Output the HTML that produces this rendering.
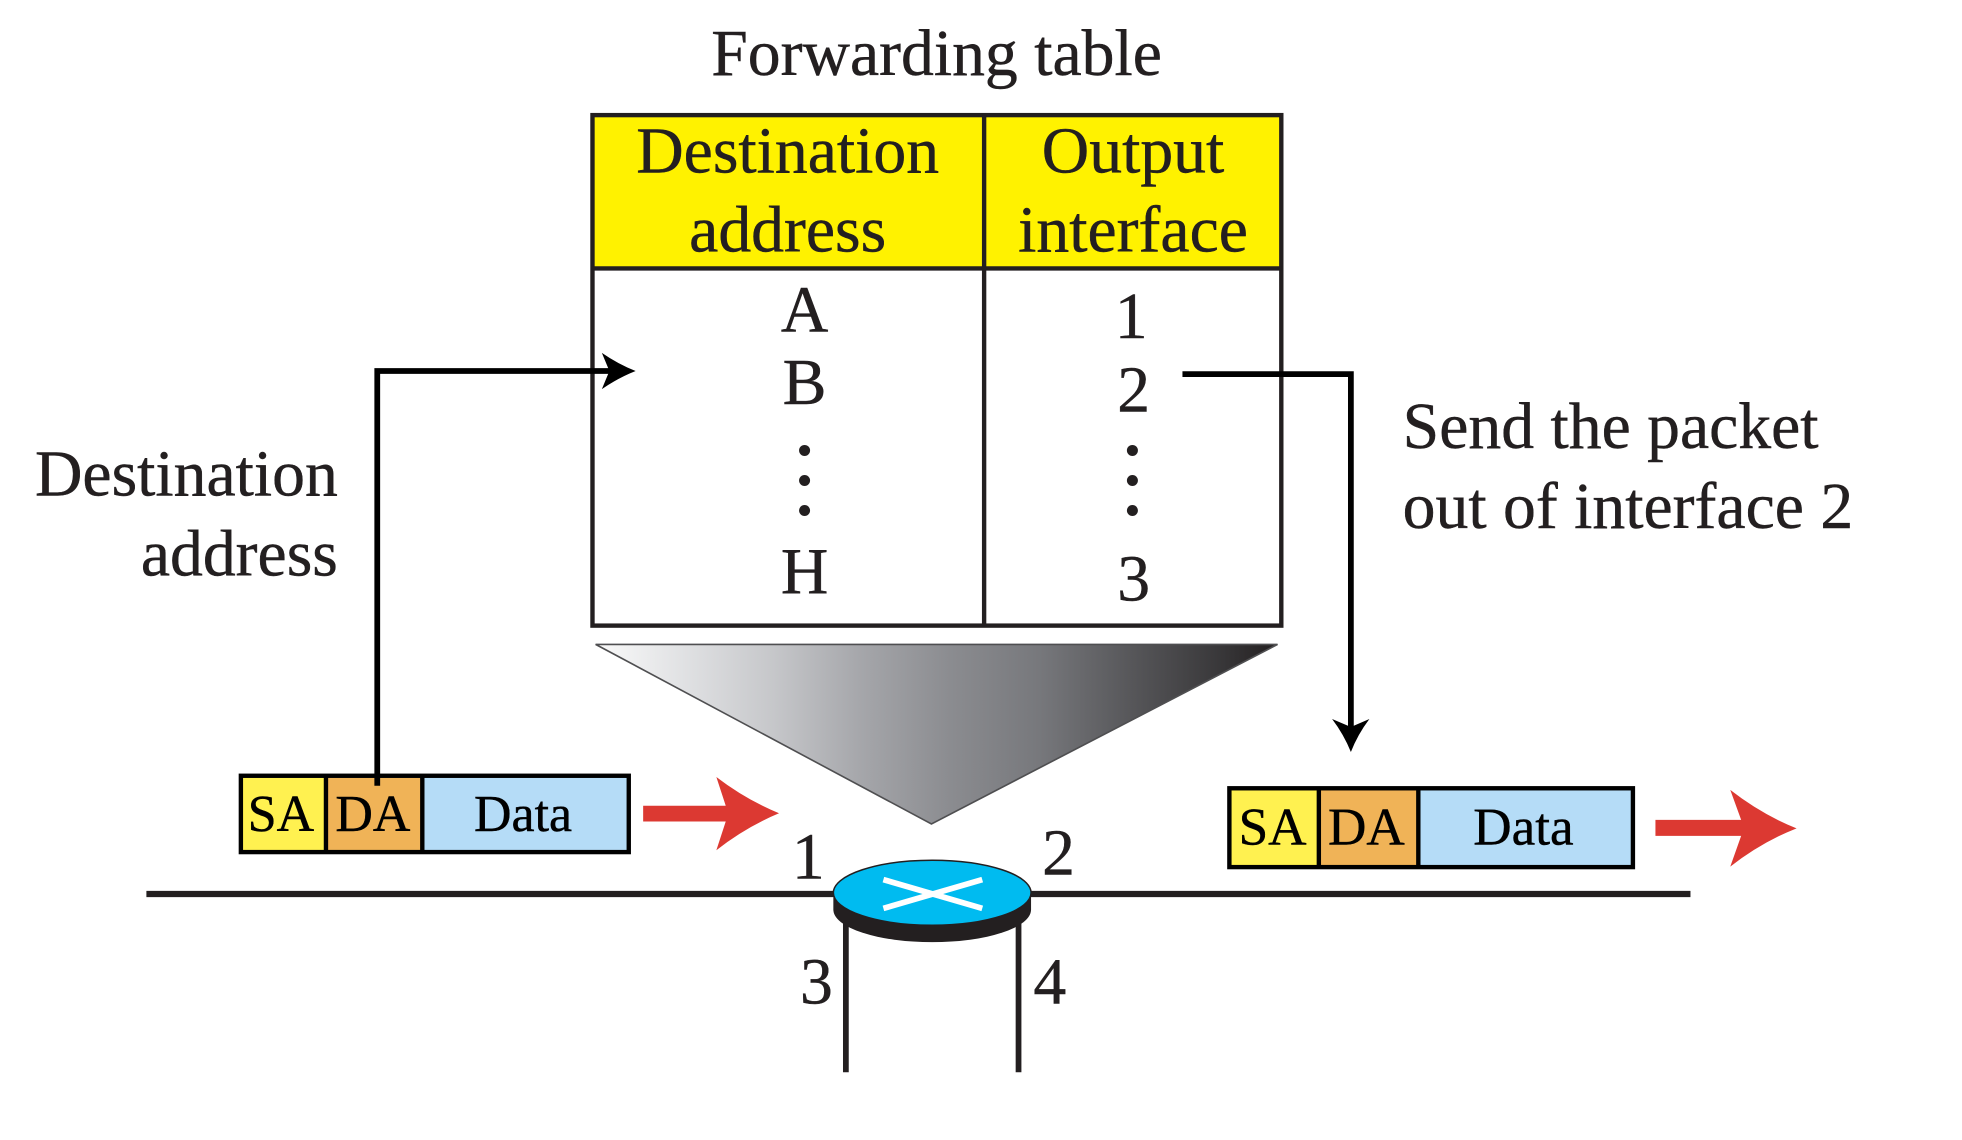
<!DOCTYPE html>
<html>
<head>
<meta charset="utf-8">
<style>
html,body{margin:0;padding:0;background:#fff;width:1962px;height:1140px;overflow:hidden}
svg{display:block}
text{font-family:"Liberation Serif","Times New Roman",serif;fill:#231f20;stroke:#231f20;stroke-width:.35px}
.k text{fill:#000;stroke:#000}
</style>
</head>
<body>
<svg width="1962" height="1140" viewBox="0 0 1568 911.1" preserveAspectRatio="none" xmlns="http://www.w3.org/2000/svg">
<defs>
<linearGradient id="g" x1="476" x2="1021" y1="0" y2="0" gradientUnits="userSpaceOnUse">
<stop offset="0" stop-color="#fafafa"/>
<stop offset="0.13" stop-color="#e0e1e3"/>
<stop offset="0.26" stop-color="#c6c7ca"/>
<stop offset="0.39" stop-color="#a5a6aa"/>
<stop offset="0.52" stop-color="#8b8c90"/>
<stop offset="0.65" stop-color="#77787c"/>
<stop offset="0.78" stop-color="#58585b"/>
<stop offset="0.91" stop-color="#3a393b"/>
<stop offset="1" stop-color="#231f20"/>
</linearGradient>
</defs>

<text x="748.5" y="60" font-size="52.5" text-anchor="middle">Forwarding table</text>

<!-- table -->
<rect x="473.5" y="92" width="550.5" height="408" fill="#fff"/>
<rect x="473.5" y="92" width="550.5" height="122" fill="#fff200"/>
<g fill="none" stroke="#231f20" stroke-width="3.5">
<rect x="473.5" y="92" width="550.5" height="408"/>
<line x1="473.5" y1="214.5" x2="1024" y2="214.5"/>
<line x1="786.5" y1="92" x2="786.5" y2="500"/>
</g>
<g font-size="52.5" text-anchor="middle">
<text x="629.5" y="138">Destination</text>
<text x="629.5" y="201">address</text>
<text x="905.5" y="138">Output</text>
<text x="905.5" y="201">interface</text>
<text x="643" y="265">A</text>
<text x="643" y="323">B</text>
<text x="643" y="474">H</text>
<text x="904" y="270">1</text>
<text x="906" y="329">2</text>
<text x="906" y="480">3</text>
</g>
<g fill="#231f20">
<circle cx="643" cy="360" r="4.4"/><circle cx="643" cy="384" r="4.4"/><circle cx="643" cy="408" r="4.4"/>
<circle cx="905" cy="360" r="4.4"/><circle cx="905" cy="384" r="4.4"/><circle cx="905" cy="408" r="4.4"/>
</g>

<!-- side labels -->
<g font-size="52.5">
<text x="270" y="396" text-anchor="end">Destination</text>
<text x="270" y="460" text-anchor="end">address</text>
<text x="1121" y="358">Send the packet</text>
<text x="1121" y="422">out of interface 2</text>
</g>

<!-- funnel -->
<polygon points="476,515 1021,515 744.4,658.5" fill="url(#g)" stroke="#4f4f51" stroke-width="1.3"/>

<!-- network lines -->
<line x1="117" y1="714.5" x2="1351" y2="714.5" stroke="#231f20" stroke-width="5"/>
<line x1="676" y1="735" x2="676" y2="857" stroke="#231f20" stroke-width="4.6"/>
<line x1="814" y1="735" x2="814" y2="857" stroke="#231f20" stroke-width="4.6"/>

<!-- router -->
<path d="M666,714 V727 A79,26 0 0 0 824,727 V714 Z" fill="#231f20"/>
<ellipse cx="745" cy="713.5" rx="79" ry="26" fill="#00bbf0" stroke="#231f20" stroke-width="1.2"/>
<g stroke="#fff" stroke-width="4.6">
<line x1="706" y1="703" x2="785" y2="726"/>
<line x1="785" y1="703" x2="706" y2="726"/>
</g>

<!-- port labels -->
<g font-size="52.5" text-anchor="middle">
<text x="646" y="702">1</text>
<text x="846" y="699">2</text>
<text x="652.5" y="802">3</text>
<text x="839" y="802">4</text>
</g>

<!-- left packet -->
<rect x="192" y="620" width="68" height="61" fill="#fff150"/>
<rect x="260" y="620" width="77" height="61" fill="#f0b357"/>
<rect x="337" y="620" width="166" height="61" fill="#b5dcf7"/>
<g fill="none" stroke="#000" stroke-width="3.5">
<rect x="192.5" y="620" width="310" height="61"/>
<line x1="260.5" y1="620" x2="260.5" y2="681"/>
<line x1="337.5" y1="620" x2="337.5" y2="681"/>
</g>
<g font-size="41.5" text-anchor="middle" class="k">
<text x="224.5" y="664">SA</text>
<text x="298" y="664">DA</text>
<text x="418" y="664">Data</text>
</g>

<!-- right packet -->
<rect x="982" y="630" width="72" height="63" fill="#fff150"/>
<rect x="1054" y="630" width="79" height="63" fill="#f0b357"/>
<rect x="1133" y="630" width="172" height="63" fill="#b5dcf7"/>
<g fill="none" stroke="#000" stroke-width="3.5">
<rect x="982.5" y="630" width="322.5" height="63"/>
<line x1="1054" y1="630" x2="1054" y2="693"/>
<line x1="1133.5" y1="630" x2="1133.5" y2="693"/>
</g>
<g font-size="42.5" text-anchor="middle" class="k">
<text x="1017" y="675">SA</text>
<text x="1092" y="675">DA</text>
<text x="1217.5" y="675">Data</text>
</g>

<!-- red arrows -->
<path d="M514,644 H580 L572.5,621 Q596,639 622.6,650 Q596,661 572.5,679.5 L580,656.6 H514 Z" fill="#dc3932"/>
<path d="M1323,655.3 H1391.5 L1382.8,631.3 Q1408,651 1435.8,662 Q1408,673 1382.8,692.6 L1391.5,668 H1323 Z" fill="#dc3932"/>

<!-- black connectors -->
<path d="M301.5,628 V296.5 H490" fill="none" stroke="#000" stroke-width="4.6"/>
<path d="M508,296.5 Q494,291 481,282 L487,296.5 L481,311 Q494,302 508,296.5 Z" fill="#000"/>
<path d="M945,299 H1079.6 V585" fill="none" stroke="#000" stroke-width="4.6"/>
<path d="M1079.6,601 Q1074,587 1064.6,574.6 L1079.6,581 L1094.4,574.6 Q1085,587 1079.6,601 Z" fill="#000"/>
</svg>
</body>
</html>
